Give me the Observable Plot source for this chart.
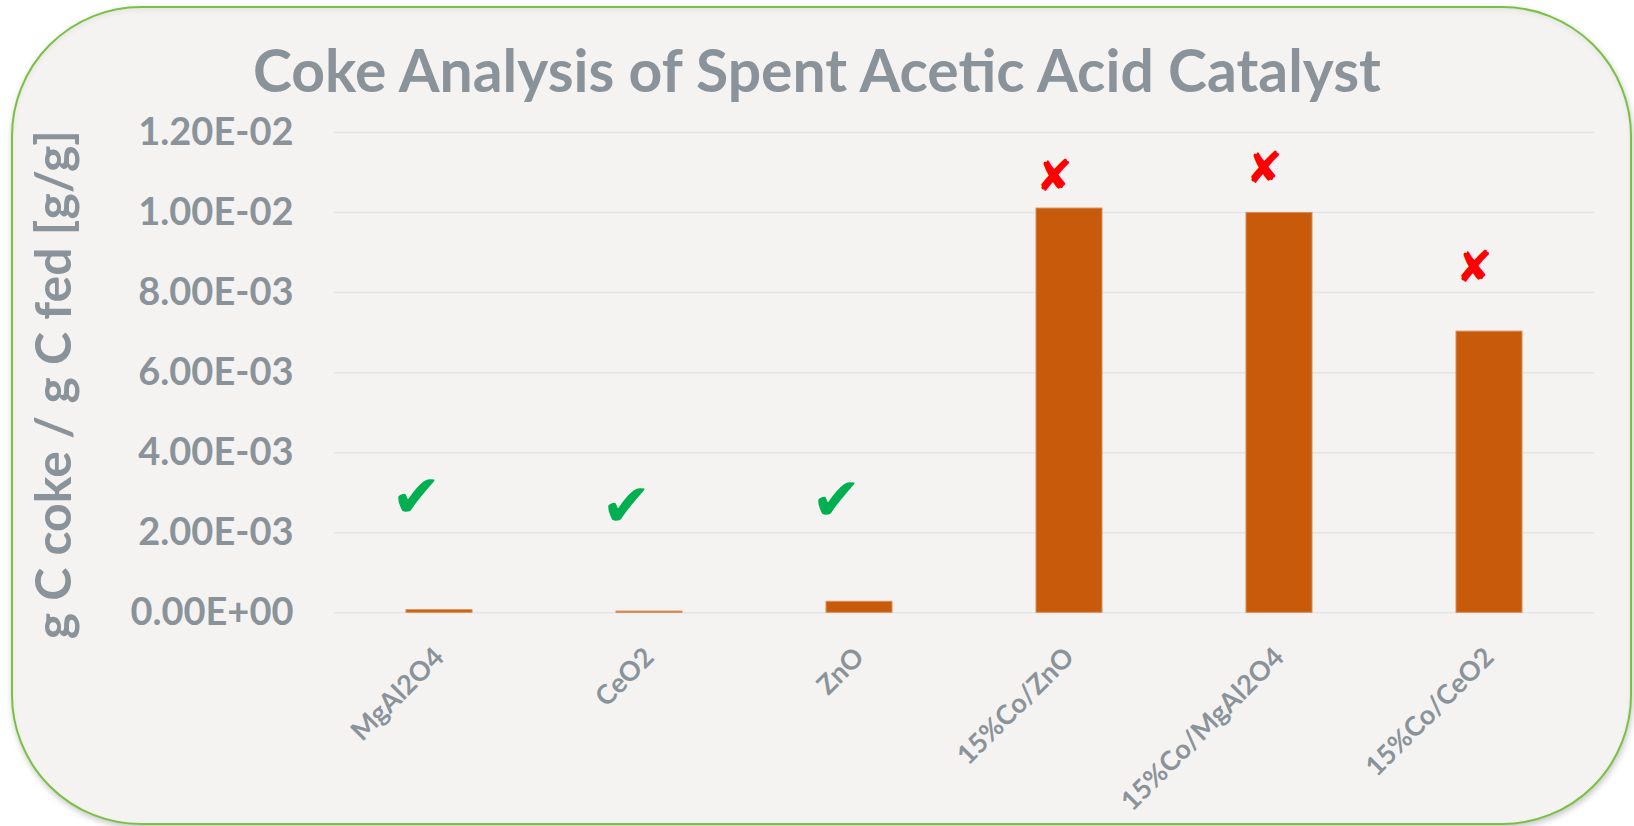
<!DOCTYPE html>
<html><head><meta charset="utf-8">
<script src="https://cdn.jsdelivr.net/npm/d3@7"></script>
<script src="https://cdn.jsdelivr.net/npm/@observablehq/plot@0.6"></script>
<style>
html,body{margin:0;padding:0;background:#ffffff;}
body{width:1634px;height:826px;position:relative;overflow:hidden;font-family:Lato,sans-serif;}
#card{position:absolute;left:11px;top:6px;width:1621px;height:819px;box-sizing:border-box;border:2.5px solid #7AC143;border-radius:130px;background:#F4F3F2;box-shadow:1px 3px 6px rgba(0,0,0,0.22), inset 0 3px 5px rgba(0,0,0,0.05);}
#title{position:absolute;left:0;top:0;}
#chart{position:absolute;left:0;top:110px;}
</style></head><body>
<div id="card"></div>
<svg id="title" width="1634" height="110"></svg>
<div id="chart"></div>
<script>
// ---- data ----
const chartTitle = "Coke Analysis of Spent Acetic Acid Catalyst";
const yLabel = "g C coke / g C fed [g/g]";
const catalysts = ["MgAl2O4", "CeO2", "ZnO", "15%Co/ZnO", "15%Co/MgAl2O4", "15%Co/CeO2"];
const coke = [0.000065, 0.00003, 0.000275, 0.0101, 0.00999, 0.007025];
const yTicks = [0, 0.002, 0.004, 0.006, 0.008, 0.010, 0.012];
const verdict = ["✔", "✔", "✔", "✘", "✘", "✘"];
const verdictY = [0.00287, 0.00266, 0.00281, 0.0109, 0.0111, 0.00862];

const textGray = "#8B939A";

// title
const ts = d3.select("#title");
ts.append("text")
  .attr("x", 817).attr("y", 92)
  .attr("text-anchor", "middle")
  .attr("font-family", "Lato").attr("font-weight", 700).attr("font-size", 59)
  .attr("fill", textGray)
  .attr("textLength", 1128).attr("lengthAdjust", "spacingAndGlyphs")
  .text(chartTitle);

const data = catalysts.map((c, i) => ({catalyst: c, coke: coke[i], mark: verdict[i], markY: verdictY[i]}));

const fmt = v => {
  const [m, e] = v.toExponential(2).split("e");
  const sign = e[0] === "-" ? "-" : "+";
  return m + "E" + sign + String(Math.abs(+e)).padStart(2, "0");
};

const plot = Plot.plot({
  width: 1634,
  height: 716,
  marginLeft: 334,
  marginRight: 40,
  marginTop: 22,
  marginBottom: 213.7,
  style: {background: "transparent", fontFamily: "Lato", color: textGray, overflow: "visible"},
  x: {domain: catalysts, paddingInner: 0.686, paddingOuter: 0.343, align: 0.5, label: null},
  y: {domain: [0, 0.012], label: null},
  marks: [
    Plot.ruleY(yTicks, {stroke: "#E3E5E8", strokeWidth: 1.5}),
    Plot.barY(data, {x: "catalyst", y: "coke", fill: "#C75B0B", stroke: "#D98E55", strokeWidth: 1}),
    Plot.axisY({ticks: yTicks, tickFormat: fmt, tickSize: 0, tickPadding: 41, fontSize: 38, fontWeight: "bold", label: null}),
    Plot.axisX({tickSize: 0, tickPadding: 40, tickRotate: -45, fontSize: 27, fontWeight: "bold", label: null}),
    Plot.text(data.filter(d => d.mark === "✔"), {x: "catalyst", y: "markY", text: "mark", fill: "#00B050", fontSize: 60, dx: -23, fontFamily: "DejaVu Sans"}),
    Plot.text(data.filter(d => d.mark === "✘"), {x: "catalyst", y: "markY", text: "mark", fill: "#FF0000", fontSize: 44, dx: -15, fontFamily: "DejaVu Sans"}),
    Plot.text([yLabel], {text: d => d, frameAnchor: "left", rotate: -90, dx: -299, dy: 12, fontSize: 50, fontWeight: "bold", fill: textGray, textAnchor: "middle", lineAnchor: "top"})
  ]
});
document.getElementById("chart").appendChild(plot);
</script>
</body></html>
